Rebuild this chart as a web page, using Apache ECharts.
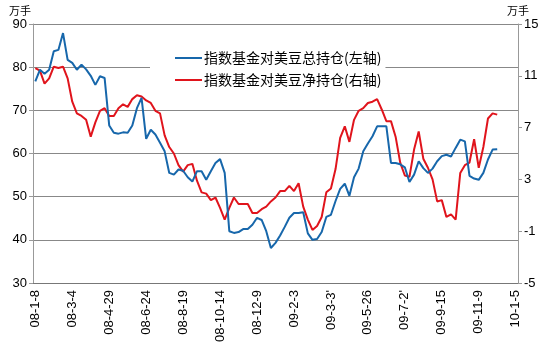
<!DOCTYPE html>
<html>
<head>
<meta charset="utf-8">
<script src="https://cdn.jsdelivr.net/npm/echarts@6/dist/echarts.min.js"></script>
<style>
  html, body { margin: 0; padding: 0; background: #fff; }
  #chart { width: 548px; height: 350px; }
</style>
</head>
<body>
<div id="chart"></div>
<script>
// Weekly reports (Tuesdays) from 2008-01-08 through 2010-01-05
const startDate = new Date(Date.UTC(2008, 0, 8));
const weekCount = 105;
const categories = [];
for (let i = 0; i < weekCount; i++) {
  const d = new Date(startDate.getTime() + i * 7 * 86400000);
  const yy = String(d.getUTCFullYear()).slice(2);
  categories.push(yy + '-' + (d.getUTCMonth() + 1) + '-' + d.getUTCDate());
}

// Labels printed under every 8th week
const tickLabels = ['08-1-8', '08-3-4', '08-4-29', '08-6-24', '08-8-19', '08-10-14', '08-12-9',
  '09-2-3', "09-3-3'", '09-5-26', "09-7-2'", '09-9-15', '09-11-9', '10-1-5'];

// Index funds' total soybean position (left axis, 10k lots)
const totalPosition = [
  76.7, 79.4, 78.5, 79.4, 83.7, 84.0, 87.9, 81.7, 81.0, 79.4,
  80.6, 79.5, 78.0, 75.9, 77.9, 77.5, 66.5, 64.8, 64.6, 64.9,
  64.8, 66.5, 70.5, 72.9, 63.4, 65.5, 64.4, 62.5, 60.5, 55.5,
  55.1, 56.3, 56.0, 54.5, 53.5, 55.9, 55.9, 53.9, 55.9, 57.8,
  58.7, 55.5, 42.0, 41.6, 41.8, 42.5, 42.5, 43.5, 45.1, 44.6,
  42.0, 38.1, 39.3, 41.0, 43.0, 45.1, 46.2, 46.2, 46.4, 41.5,
  40.0, 40.2, 41.8, 45.3, 45.8, 49.0, 51.8, 53.0, 50.2, 54.5,
  56.5, 60.5, 62.3, 64.0, 66.3, 66.3, 66.3, 57.8, 57.8, 57.5,
  56.8, 53.4, 55.1, 58.2, 56.6, 55.5, 56.5, 58.2, 59.4, 59.7,
  59.3, 61.3, 63.2, 62.8, 54.8, 54.2, 53.9, 55.5, 58.6, 60.9,
  61.0
];

// Index funds' net soybean position (right axis, 10k lots)
const netPosition = [
  11.6, 11.4, 10.4, 10.8, 11.7, 11.6, 11.7, 10.8, 9.0, 8.1,
  7.9, 7.6, 6.3, 7.4, 8.3, 8.5, 7.9, 7.9, 8.5, 8.8,
  8.6, 9.2, 9.5, 9.4, 9.1, 8.9, 8.3, 8.1, 6.4, 5.5,
  5.0, 4.1, 3.6, 4.1, 4.2, 2.9, 2.0, 1.9, 1.4, 1.6,
  0.8, -0.1, 0.8, 1.6, 1.1, 1.1, 1.1, 0.4, 0.4, 0.7,
  0.9, 1.3, 1.6, 2.1, 2.1, 2.5, 2.1, 2.7, 0.9, -0.1,
  -0.9, -0.6, 0.1, 2.0, 2.3, 3.8, 6.2, 7.1, 5.9, 7.6,
  8.3, 8.5, 8.9, 9.0, 9.2, 8.4, 7.5, 7.5, 6.3, 4.3,
  3.3, 3.2, 5.3, 6.7, 4.6, 3.9, 3.0, 1.3, 1.4, 0.1,
  0.3, -0.1, 3.5, 4.1, 4.3, 6.1, 3.9, 5.5, 7.7, 8.1,
  8.0
];

const seriesNames = ['指数基金对美豆总持仓(左轴)', '指数基金对美豆净持仓(右轴)'];
const unitLabel = '万手';

const chart = echarts.init(document.getElementById('chart'), null, { renderer: 'canvas' });
const numFont = 'Liberation Sans, Arial, sans-serif';
const cjkFont = 'Noto Sans CJK SC, sans-serif';

chart.setOption({
  animation: false,
  backgroundColor: '#fff',
  grid: { left: 33, right: 30, top: 24, bottom: 67, containLabel: false },
  graphic: [
    { type: 'text', left: 9, top: 5, style: { text: unitLabel, font: '11px ' + cjkFont, fill: '#000' } },
    { type: 'text', left: 507, top: 5, style: { text: unitLabel, font: '11px ' + cjkFont, fill: '#000' } }
  ],
  legend: {
    orient: 'vertical',
    left: 150,
    top: 44,
    padding: [7, 4, 7, 25],
    backgroundColor: '#fff',
    itemGap: 8,
    itemWidth: 27,
    itemHeight: 2,
    icon: 'rect',
    textStyle: { fontFamily: cjkFont, fontSize: 14, color: '#000', padding: [0, 0, 0, -3] },
    data: seriesNames
  },
  xAxis: {
    type: 'category',
    data: categories,
    boundaryGap: true,
    axisLine: { onZero: false, lineStyle: { color: '#777', width: 1 } },
    axisTick: { interval: 0, length: 4, lineStyle: { color: '#777' } },
    axisLabel: {
      interval: 7,
      rotate: 90,
      fontFamily: numFont,
      fontSize: 13,
      color: '#000',
      margin: 7,
      formatter: (value, index) => tickLabels[index / 8] || ''
    },
    splitLine: { show: false }
  },
  yAxis: [
    {
      type: 'value',
      min: 30, max: 90, interval: 10,
      axisLine: { show: true, lineStyle: { color: '#999', width: 1 } },
      axisTick: { show: true, length: 4, lineStyle: { color: '#999' } },
      axisLabel: { fontFamily: numFont, fontSize: 13, color: '#000', margin: 6 },
      splitLine: { show: true, lineStyle: { color: '#888', width: 1 } }
    },
    {
      type: 'value',
      min: -5, max: 15, interval: 4,
      axisLine: { show: true, lineStyle: { color: '#999', width: 1 } },
      axisTick: { show: true, length: 4, lineStyle: { color: '#999' } },
      axisLabel: { fontFamily: numFont, fontSize: 13, color: '#000', margin: 6 },
      splitLine: { show: false }
    }
  ],
  series: [
    {
      name: seriesNames[0],
      type: 'line',
      yAxisIndex: 0,
      data: totalPosition,
      symbol: 'none',
      z: 3,
      lineStyle: { color: '#1767ab', width: 2 },
      itemStyle: { color: '#1767ab' }
    },
    {
      name: seriesNames[1],
      type: 'line',
      yAxisIndex: 1,
      data: netPosition,
      symbol: 'none',
      z: 2,
      lineStyle: { color: '#e0141c', width: 2 },
      itemStyle: { color: '#e0141c' }
    }
  ]
});
</script>
</body>
</html>
